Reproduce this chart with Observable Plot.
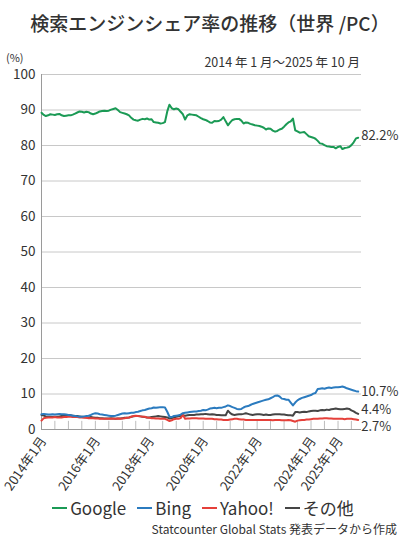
<!DOCTYPE html>
<html><head><meta charset="utf-8">
<script src="https://cdn.jsdelivr.net/npm/d3@7"></script>
<script src="https://cdn.jsdelivr.net/npm/@observablehq/plot@0.6"></script>
<style>
body{margin:0;width:400px;height:540px;position:relative;background:#fff;font-family:"Noto Sans CJK JP","Noto Sans",sans-serif;color:#333;overflow:hidden}
#title{position:absolute;left:0;top:9px;width:400px;text-align:center;font-size:19px;font-weight:500;color:#333;white-space:nowrap;padding-left:20px;box-sizing:border-box}
#unit{position:absolute;left:6px;top:49px;font-size:11px;color:#333}
#range{position:absolute;right:40px;top:52px;font-size:12.5px;color:#333;white-space:nowrap}
#chart{position:absolute;left:0;top:45px}
#legend{position:absolute;left:0;width:400px;top:498px;height:20px;line-height:20px;display:flex;justify-content:center;gap:11px;font-size:17px;color:#333;padding-left:6px;box-sizing:border-box}
#legend span{display:flex;align-items:center;white-space:nowrap}
#legend i{display:inline-block;width:15px;height:2px;margin-right:3px}
#caption{position:absolute;right:3px;top:521px;height:15px;line-height:15px;font-size:12px;color:#333;white-space:nowrap}
</style></head>
<body>
<div id="title">検索エンジンシェア率の推移（世界 /PC）</div>
<div id="unit">(%)</div>
<div id="range">2014 年 1 月〜2025 年 10 月</div>
<div id="chart"></div>
<div id="legend"></div>
<div id="caption">Statcounter Global Stats 発表データから作成</div>
<script>
// Monthly values, 2014-01 .. 2025-10 (142 months)
const google = [
89.2,88.6,88.3,88.5,88.8,88.7,88.6,88.8,88.9,88.5,88.3,88.4,
88.5,88.5,88.7,89.0,89.3,89.6,89.5,89.3,89.5,89.4,89.0,88.8,
89.0,89.3,89.6,89.7,89.8,89.7,89.8,90.1,90.3,90.5,90.0,89.4,
89.2,89.0,88.8,88.5,87.8,87.3,87.1,87.0,87.3,87.5,87.4,87.6,
87.3,87.4,86.6,86.5,86.4,86.2,86.3,86.6,89.6,91.5,90.5,90.2,
90.4,90.2,89.5,88.8,87.3,88.5,88.8,88.7,88.6,88.5,88.1,87.7,
87.4,87.2,86.9,86.5,86.4,86.9,86.8,86.9,87.3,88.0,86.8,85.7,
86.5,87.2,87.4,87.5,87.5,87.0,86.2,86.5,86.4,86.1,85.9,85.7,
85.6,85.5,85.3,85.0,84.5,84.8,84.7,84.2,83.9,84.1,84.5,84.7,
85.3,86.0,86.5,86.8,87.6,84.3,84.0,83.6,83.7,83.8,83.2,82.6,
82.4,82.2,81.9,81.3,80.6,80.5,80.1,79.8,79.7,79.6,79.6,79.2,
79.6,79.8,79.0,79.3,79.4,79.6,80.1,80.9,82.0,82.2];
const bing = [
4.3,4.4,4.3,4.2,4.2,4.3,4.2,4.3,4.4,4.3,4.3,4.2,
4.1,4.0,3.9,3.8,3.7,3.6,3.6,3.7,3.8,3.9,4.1,4.4,
4.6,4.5,4.3,4.2,4.1,4.0,3.9,3.8,3.8,3.9,4.1,4.3,
4.5,4.6,4.5,4.6,4.7,4.7,4.9,5.0,5.2,5.4,5.5,5.7,
5.9,6.0,6.2,6.1,6.2,6.3,6.3,6.2,5.0,3.6,3.5,3.8,
3.9,4.0,4.2,4.6,4.7,4.8,4.9,5.0,5.1,5.1,5.2,5.3,
5.5,5.4,5.6,5.9,6.0,6.1,6.0,6.1,6.1,6.3,6.5,6.8,
6.6,6.3,6.1,5.8,5.7,5.8,6.2,6.5,6.6,6.9,7.2,7.4,
7.6,7.8,8.0,8.2,8.4,8.5,8.8,9.1,9.5,9.6,9.3,8.7,
8.6,8.4,8.4,7.6,6.8,7.6,8.2,8.6,8.9,9.1,9.3,9.5,
9.7,10.1,10.3,11.4,11.5,11.6,11.5,11.7,11.8,11.7,11.8,11.9,
11.9,12.0,12.1,11.9,11.6,11.4,11.2,11.0,10.8,10.7];
const yahoo = [
2.5,3.2,3.3,3.4,3.4,3.4,3.5,3.4,3.4,3.4,3.5,3.5,
3.6,3.6,3.5,3.5,3.5,3.4,3.4,3.3,3.3,3.2,3.2,3.2,
3.1,3.1,3.0,3.0,3.0,3.0,3.0,3.0,3.0,3.0,3.1,3.0,
3.1,3.2,3.3,3.4,3.6,3.8,3.9,3.8,3.7,3.6,3.6,3.4,
3.3,3.2,3.2,3.1,3.1,3.0,3.0,3.0,2.7,2.4,2.6,2.9,
3.0,3.0,3.2,4.1,3.0,3.1,3.1,3.2,3.2,3.2,3.1,3.1,
3.1,3.0,3.0,3.0,3.0,2.9,2.9,2.8,2.8,2.7,2.7,2.7,
2.8,2.9,3.0,3.0,2.9,2.8,2.8,2.7,2.7,2.7,2.7,2.7,
2.7,2.7,2.7,2.7,2.7,2.7,2.7,2.6,2.7,2.7,2.7,2.6,
2.6,2.6,2.7,2.6,2.4,2.2,2.5,2.6,2.7,2.7,2.8,2.8,
2.9,3.0,3.0,3.0,3.1,3.1,3.2,3.2,3.1,3.1,3.0,3.0,
3.0,3.0,3.0,2.9,3.0,3.0,3.0,2.9,2.8,2.7];
const other = [
4.1,3.9,3.7,3.6,3.6,3.5,3.6,3.6,3.7,3.8,3.9,4.0,
4.1,4.0,3.9,3.8,3.8,3.7,3.6,3.5,3.4,3.4,3.5,3.4,
3.3,3.3,3.2,3.2,3.1,3.1,3.1,3.2,3.1,3.0,3.1,3.1,
3.2,3.3,3.3,3.4,3.6,3.7,3.8,3.8,3.7,3.6,3.5,3.4,
3.4,3.5,3.6,3.7,3.8,3.7,3.6,3.5,3.4,3.1,3.2,3.4,
3.6,3.7,3.8,4.0,3.9,4.0,4.1,4.1,4.1,4.2,4.2,4.3,
4.3,4.4,4.3,4.2,4.3,4.2,4.1,4.1,4.0,4.0,4.0,5.3,
4.6,4.2,4.1,4.2,4.3,4.3,4.4,4.6,4.4,4.2,4.1,4.2,
4.3,4.3,4.2,4.1,4.2,4.1,4.1,4.2,4.3,4.3,4.3,4.2,
4.2,4.1,4.0,4.0,3.9,4.9,4.9,4.8,4.9,5.0,4.9,5.1,
5.2,5.3,5.3,5.2,5.4,5.5,5.4,5.6,5.5,5.7,5.8,5.9,
5.8,5.7,5.7,5.8,5.9,5.8,5.4,5.1,4.7,4.4];

const seriesNames = ["Google", "Bing", "Yahoo!", "その他"];
const seriesColors = ["#1b9a55", "#2b7bbf", "#e5403a", "#454545"];
const endLabels = ["82.2%", "10.7%", "2.7%", "4.4%"];
const yTicks = [0, 10, 20, 30, 40, 50, 60, 70, 80, 90, 100];
const labelMonths = ["2014-01", "2016-01", "2018-01", "2020-01", "2022-01", "2024-01", "2025-01"];

const months = d3.timeMonth.range(new Date(2014, 0, 1), new Date(2025, 10, 1));
const values = [google, bing, yahoo, other];
const rows = [];
values.forEach((arr, s) => arr.forEach((v, i) => rows.push({date: months[i], value: v, series: seriesNames[s]})));
const lastRows = values.map((arr, s) => ({date: months[arr.length - 1], value: arr[arr.length - 1], series: seriesNames[s], label: endLabels[s]}));
const labelDates = labelMonths.map(s => { const [y, m] = s.split("-").map(Number); return new Date(y, m - 1, 1); });
const tickDates = d3.timeMonth.every(6).range(new Date(2014, 0, 1), new Date(2025, 10, 1));
const xDomain = [new Date(2014, 0, 1), new Date(2025, 10, 15)];
const colorOf = name => seriesColors[seriesNames.indexOf(name)];
const drawOrder = ["その他", "Yahoo!", "Bing", "Google"];
const labelDy = {"Google": -2, "Bing": 0, "Yahoo!": 7, "その他": -4};

const chart = Plot.plot({
  width: 400,
  height: 455,
  marginLeft: 41,
  marginRight: 39,
  marginTop: 29,
  marginBottom: 71,
  style: {fontFamily: '"Noto Sans CJK JP","Noto Sans",sans-serif', color: "#333", background: "transparent"},
  x: {type: "time", domain: xDomain},
  y: {domain: [0, 100]},
  marks: [
    Plot.gridY(yTicks.filter(d => d > 0), {stroke: "#c8c8c8", strokeOpacity: 1, strokeWidth: 1}),
    Plot.axisY(yTicks, {tickSize: 0, tickPadding: 6, fontSize: 13.5, label: null}),
    Plot.ruleX(tickDates, {x: d => d, y1: 0, y2: 2.3, stroke: "#bdbdbd", strokeWidth: 1}),
    Plot.ruleX([xDomain[0]], {stroke: "#9a9a9a", strokeWidth: 1}),
    Plot.ruleY([0], {stroke: "#9a9a9a", strokeWidth: 1}),
    Plot.axisX({ticks: [], label: null, tickSize: 0}),
    Plot.text(labelDates, {x: d => d, y: 0, text: d => `${d.getFullYear()}年${d.getMonth() + 1}月`, rotate: -55, textAnchor: "end", lineAnchor: "middle", dx: 2, dy: 9, fontSize: 13, fill: "#333"}),
    ...drawOrder.map(name => Plot.line(rows.filter(r => r.series === name), {x: "date", y: "value", stroke: colorOf(name), strokeWidth: 2, curve: "linear"})),
    ...lastRows.map(r => Plot.text([r], {x: "date", y: "value", text: "label", textAnchor: "start", dx: 3, dy: labelDy[r.series], fontSize: 13, fill: "#333"}))
  ]
});
document.getElementById("chart").appendChild(chart);

const legend = document.getElementById("legend");
seriesNames.forEach((n, i) => {
  const s = document.createElement("span");
  const sw = document.createElement("i");
  sw.style.background = seriesColors[i];
  s.appendChild(sw);
  s.appendChild(document.createTextNode(n));
  legend.appendChild(s);
});
</script>
</body></html>
